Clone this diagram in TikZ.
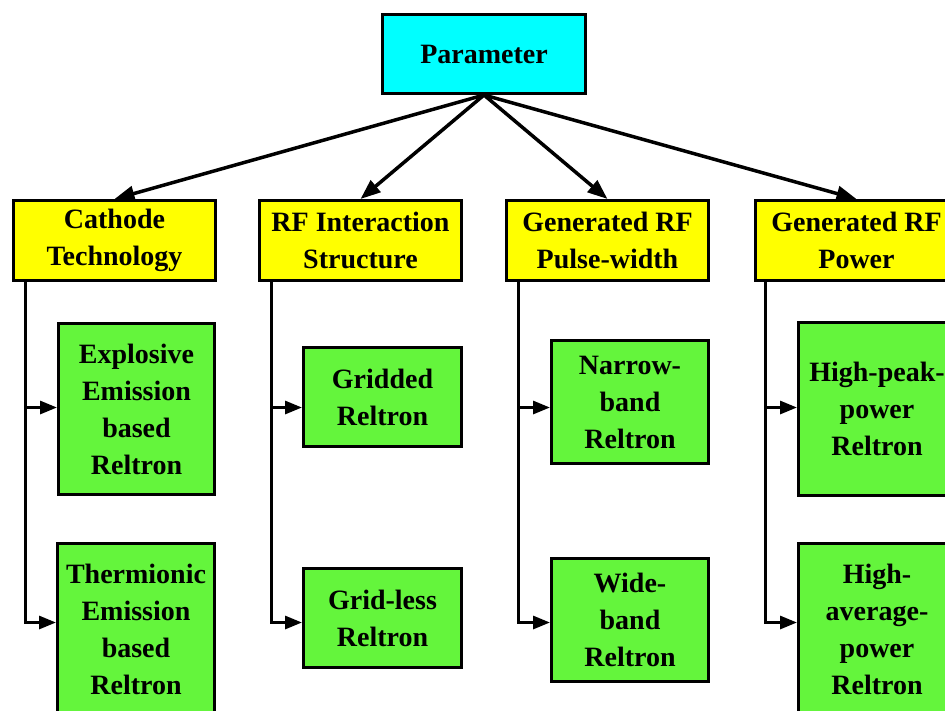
\documentclass[tikz,border=0pt]{standalone}
\usepackage{fontspec}
\setmainfont{Liberation Serif}
\usetikzlibrary{arrows.meta}
\definecolor{paramcyan}{RGB}{0,255,255}
\definecolor{catyellow}{RGB}{255,255,0}
\definecolor{leafgreen}{RGB}{100,245,60}
\begin{document}
\begin{tikzpicture}[x=1pt,y=-1pt,
  box/.style={draw=black, line width=3pt, align=center, inner sep=0pt,
    font=\fontsize{28}{37}\selectfont\bfseries, anchor=north west},
  root/.style={box, fill=paramcyan, minimum width=203pt, minimum height=79pt},
  catbox/.style={box, fill=catyellow, minimum width=202pt, minimum height=80pt},
  leaf/.style={box, fill=leafgreen},
  toparrow/.style={line width=3.5pt, -{Triangle[length=20pt,width=15pt]}},
  conn/.style={line width=3pt, -{Triangle[length=17pt,width=13pt]}},
]
\useasboundingbox (0,0) rectangle (945,710);
\clip (0,0) rectangle (945,710);

\node[root] (param) at (381,13) {Parameter};

\node[catbox] (cat1) at (12,199) {Cathode\\Technology};
\node[catbox] (cat2) at (258,199) {RF Interaction\\Structure};
\node[catbox] (cat3) at (505,199) {Generated RF\\Pulse-width};
\node[catbox] (cat4) at (754,199) {Generated RF\\Power};

\node[leaf, minimum width=156pt, minimum height=171pt] (expl) at (57,322) {Explosive\\Emission\\based\\Reltron};
\node[leaf, minimum width=157pt, minimum height=171pt] (therm) at (56,542) {Thermionic\\Emission\\based\\Reltron};

\node[leaf, minimum width=158pt, minimum height=99pt] (grid) at (302,346) {Gridded\\Reltron};
\node[leaf, minimum width=158pt, minimum height=99pt] (gridless) at (302,567) {Grid-less\\Reltron};

\node[leaf, minimum width=157pt, minimum height=123pt] (narrow) at (550,339) {Narrow-\\band\\Reltron};
\node[leaf, minimum width=157pt, minimum height=123pt] (wide) at (550,557) {Wide-\\band\\Reltron};

\node[leaf, minimum width=157pt, minimum height=173pt] (peak) at (797,321) {High-peak-\\power\\Reltron};
\node[leaf, minimum width=157pt, minimum height=171pt] (avg) at (797,542) {High-\\average-\\power\\Reltron};

\foreach \c in {cat1,cat2,cat3,cat4}
  \draw[toparrow] (param.south) -- (\c.north);

\draw[conn] ([xshift=13pt]cat1.south west) |- ([yshift=1.5pt]expl.west);
\draw[conn] ([xshift=13pt]cat1.south west) |- ([yshift=6.5pt]therm.west);
\draw[conn] ([xshift=13pt]cat2.south west) |- ([yshift=-10.5pt]grid.west);
\draw[conn] ([xshift=13pt]cat2.south west) |- ([yshift=-4.5pt]gridless.west);
\draw[conn] ([xshift=13pt]cat3.south west) |- ([yshift=-5.5pt]narrow.west);
\draw[conn] ([xshift=13pt]cat3.south west) |- ([yshift=-2.5pt]wide.west);
\draw[conn] ([xshift=11pt]cat4.south west) |- ([yshift=1.5pt]peak.west);
\draw[conn] ([xshift=11pt]cat4.south west) |- ([yshift=6.5pt]avg.west);
\end{tikzpicture}
\end{document}
